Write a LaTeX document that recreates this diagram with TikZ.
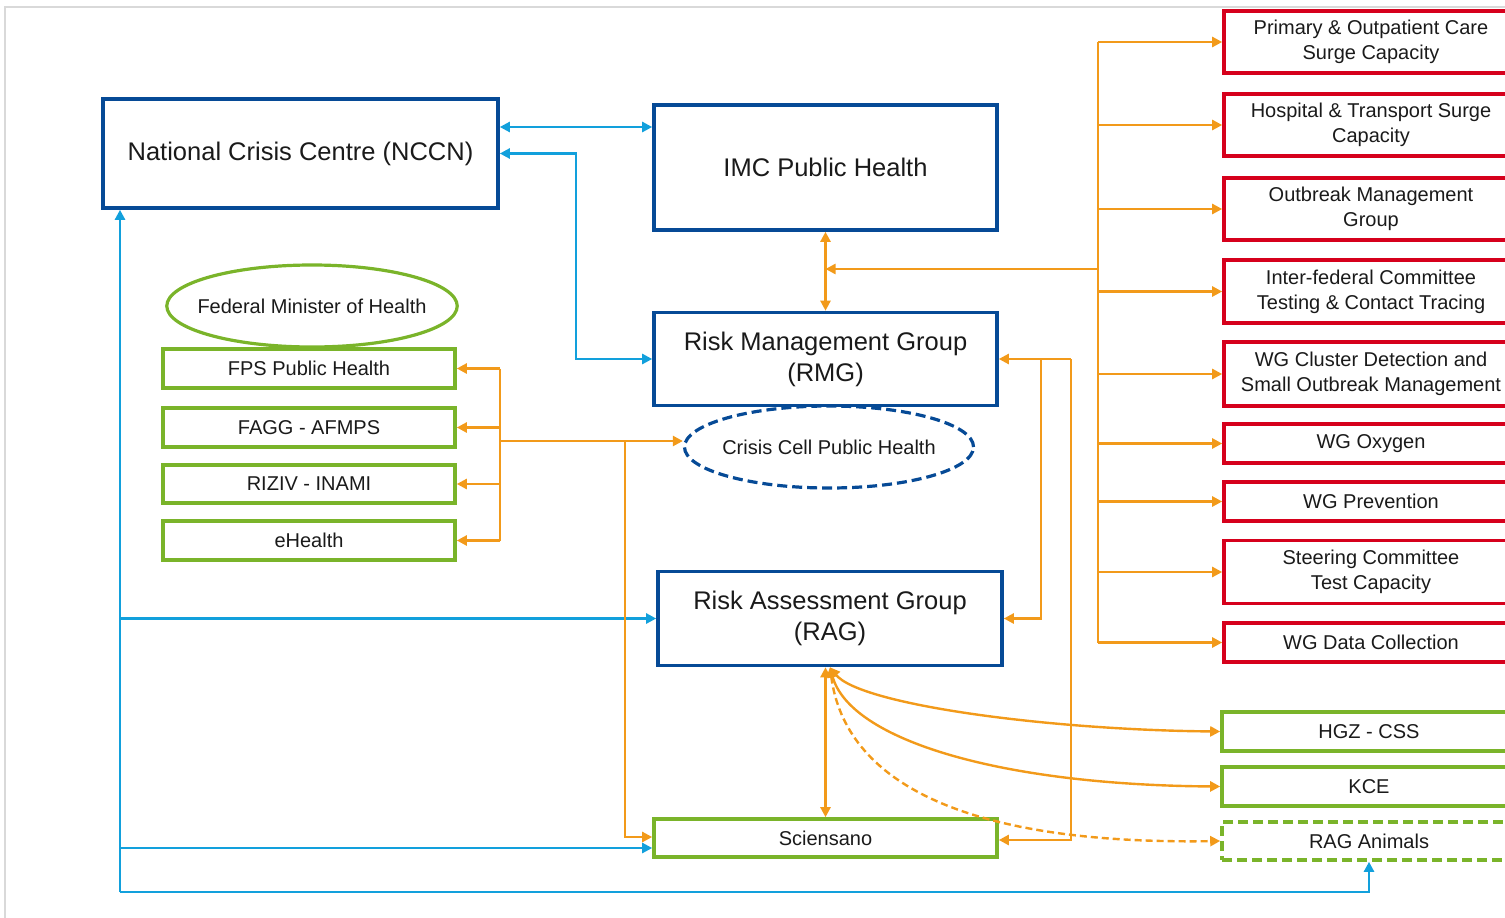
\documentclass[tikz,border=0pt]{standalone}
\usepackage{fontspec}
\setmainfont{Liberation Sans}
\usetikzlibrary{arrows.meta,shapes.geometric}

\definecolor{navy}{HTML}{064A96}
\definecolor{sky}{HTML}{12A0DC}
\definecolor{amber}{HTML}{F29A1A}
\definecolor{leaf}{HTML}{7AB42A}
\definecolor{crimson}{HTML}{D6001C}
\definecolor{framegray}{HTML}{D9D9D9}
\definecolor{ink}{HTML}{1A1A1A}

\begin{document}
\begin{tikzpicture}[x=1pt,y=-1pt,
  every node/.style={text=ink, inner sep=0pt, align=center},
  big/.style={font=\fontsize{25.5}{31}\selectfont},
  small/.style={font=\fontsize{20}{25}\selectfont},
  bluebox/.style={draw=navy, line width=3.6pt, rectangle, big},
  greenbox/.style={draw=leaf, line width=3.6pt, rectangle, small, minimum height=39pt},
  redbox/.style={draw=crimson, line width=3.6pt, rectangle, small, minimum width=294pt},
  tip/.tip={Triangle[length=10pt,width=10pt]},
  blueline/.style={draw=sky, line width=2.4pt},
  orangeline/.style={draw=amber, line width=2.4pt},
]
\useasboundingbox (0,0) rectangle (1505,918);
\clip (0,0) rectangle (1505,918);

% page frame
\draw[framegray, line width=1.5pt] (5,918) -- (5,7) -- (1505,7);

% central organisation
\node[bluebox, minimum width=395pt, minimum height=109pt] (nccn) at (300.5,153.5) {National Crisis Centre (NCCN)};
\node[bluebox, minimum width=343pt, minimum height=125pt] (imc) at (825.5,167.5) {IMC Public Health};
\node[bluebox, minimum width=343pt, minimum height=93pt] (rmg) at (825.5,359) {Risk Management Group\\(RMG)};
\node[bluebox, minimum width=344pt, minimum height=94pt] (rag) at (830,618.5) {Risk Assessment Group\\(RAG)};
\node[draw=navy, line width=3.2pt, dash pattern=on 10pt off 5pt, ellipse, inner xsep=-4.5pt, minimum width=288pt, minimum height=82pt, small] (ccph) at (829,447) {Crisis Cell Public Health};
\node[greenbox, minimum width=343pt, minimum height=38pt] (sci) at (825.5,838) {Sciensano};

% federal health bodies
\node[draw=leaf, line width=3.2pt, ellipse, inner xsep=-11.8pt, minimum width=290pt, minimum height=82pt, small] (fmh) at (312,306) {Federal Minister of Health};
\node[greenbox, minimum width=292pt] (fps) at (309,368.5) {FPS Public Health};
\node[greenbox, minimum width=292pt] (fagg) at (309,427.5) {FAGG - AFMPS};
\node[greenbox, minimum width=292pt, minimum height=38pt] (riziv) at (309,484) {RIZIV - INAMI};
\node[greenbox, minimum width=292pt] (ehealth) at (309,540.5) {eHealth};

% working groups
\node[redbox, minimum height=62pt] (prim) at (1371,42) {Primary \& Outpatient Care\\Surge Capacity};
\node[redbox, minimum height=62pt] (hosp) at (1371,125) {Hospital \& Transport Surge\\Capacity};
\node[redbox, minimum height=62pt] (omg) at (1371,209) {Outbreak Management\\Group};
\node[redbox, minimum height=63pt] (ifc) at (1371,291.5) {Inter-federal Committee\\Testing \& Contact Tracing};
\node[redbox, minimum height=64pt] (clus) at (1371,374) {WG Cluster Detection and\\Small Outbreak Management};
\node[redbox, minimum height=39pt] (oxy) at (1371,443.5) {WG Oxygen};
\node[redbox, minimum height=39pt] (prev) at (1371,501.5) {WG Prevention};
\node[redbox, minimum height=63pt] (steer) at (1371,572) {Steering Committee\\Test Capacity};
\node[redbox, minimum height=39pt] (data) at (1371,642.5) {WG Data Collection};

% scientific partners
\node[greenbox, minimum width=294pt] (hgz) at (1369,731.5) {HGZ - CSS};
\node[greenbox, minimum width=294pt] (kce) at (1369,786.5) {KCE};
\node[greenbox, minimum width=294pt, minimum height=38pt, dash pattern=on 10pt off 5pt] (ani) at (1369,841) {RAG Animals};

% routing points
\coordinate (trunk) at (1098,269);
\coordinate (bx) at (120,892);
\coordinate (sb) at (120,848);
\coordinate (c127) at (0,127);
\coordinate (vx) at (576,0);
\coordinate (bracket) at (500,441);
\coordinate (oj) at (625,441);
\coordinate (so) at (625,837);
\coordinate (r1) at (1041,0);
\coordinate (r2) at (1071,0);
\coordinate (s840) at (0,840);

% blue links
\draw[blueline, {tip}-{tip}] (nccn.east |- c127) -- (imc.west |- c127);
\draw[blueline, {tip}-{tip}] (nccn.east) -- (vx |- nccn.east) -- (vx |- rmg.west) -- (rmg.west);
\draw[blueline, -{tip}] (bx) -- (bx |- nccn.south);
\draw[blueline, -{tip}] (bx) -- (bx -| ani.south) -- (ani.south);
\draw[blueline, -{tip}] (bx |- rag.west) -- (rag.west);
\draw[blueline, -{tip}] (sb) -- (sb -| sci.west);

% orange links on the left
\draw[orangeline] (bracket |- fps.east) -- (bracket |- ehealth.east);
\draw[orangeline, -{tip}] (bracket |- fps.east) -- (fps.east);
\draw[orangeline, -{tip}] (bracket |- fagg.east) -- (fagg.east);
\draw[orangeline, -{tip}] (bracket |- riziv.east) -- (riziv.east);
\draw[orangeline, -{tip}] (bracket |- ehealth.east) -- (ehealth.east);
\draw[orangeline, -{tip}] (bracket) -- (bracket -| ccph.west);
\draw[orangeline, -{tip}] (oj) -- (so) -- (so -| sci.west);

% orange links in the centre
\draw[orangeline, {tip}-{tip}] (imc.south) -- (rmg.north);
\draw[orangeline, {tip}-{tip}] (sci.north |- rag.south) -- (sci.north);
\draw[orangeline, -{tip}] (r2 |- rmg.east) -- (rmg.east);
\draw[orangeline, -{tip}] (r1 |- rmg.east) -- (r1 |- rag.east) -- (rag.east);
\draw[orangeline, -{tip}] (r2 |- rmg.east) -- (r2 |- s840) -- (sci.east |- s840);

% orange links to the working groups
\draw[orangeline] (trunk |- prim.west) -- (trunk |- data.west);
\draw[orangeline, -{tip}] (trunk) -- (imc.south |- trunk);
\foreach \wg in {prim,hosp,omg,ifc,clus,oxy,prev,steer,data}
  \draw[orangeline, -{tip}] (trunk |- \wg.west) -- (\wg.west);

% curved links to the scientific partners
\draw[orangeline, {tip}-{tip}] (rag.south) .. controls (860,705) and (1050,730) .. (hgz.west);
\draw[orangeline, {tip}-{tip}] (rag.south) .. controls (850,740) and (1000,785) .. (kce.west);
\draw[orangeline, dash pattern=on 7pt off 4pt, {tip}-{tip}] (rag.south) .. controls (845,780) and (960,845) .. (ani.west);
\end{tikzpicture}
\end{document}
